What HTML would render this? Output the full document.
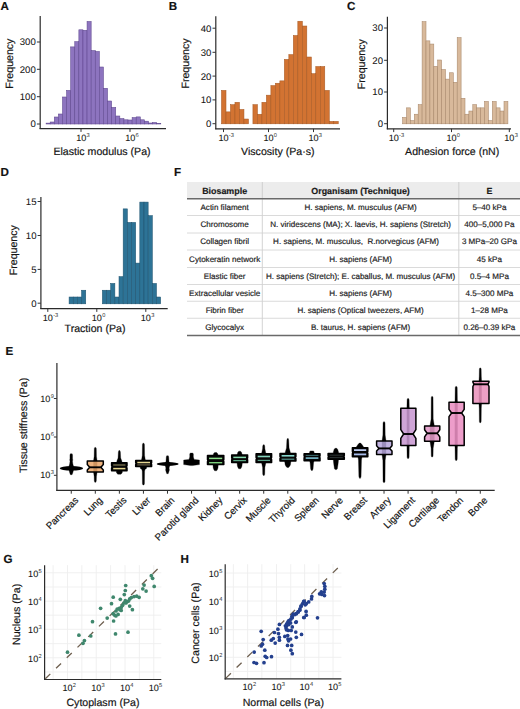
<!DOCTYPE html>
<html><head><meta charset="utf-8"><style>
html,body{margin:0;padding:0;background:#fff;width:520px;height:709px;overflow:hidden}
svg{display:block;font-family:"Liberation Sans", sans-serif;text-rendering:geometricPrecision}
</style></head><body>
<svg width="520" height="709" viewBox="0 0 520 709">
<rect width="520" height="709" fill="#fff"/>
<text x="0.60" y="9.60" font-size="11.6" text-anchor="start" font-weight="bold" fill="#111" stroke="#111" stroke-width="0.18" xml:space="preserve">A</text>
<rect x="46.10" y="123.10" width="4.10" height="0.90" fill="#8d74bf" stroke="#5f478f" stroke-width="0.55"/>
<rect x="50.20" y="122.00" width="4.10" height="2.00" fill="#8d74bf" stroke="#5f478f" stroke-width="0.55"/>
<rect x="54.29" y="117.00" width="4.10" height="7.00" fill="#8d74bf" stroke="#5f478f" stroke-width="0.55"/>
<rect x="58.39" y="114.00" width="4.10" height="10.00" fill="#8d74bf" stroke="#5f478f" stroke-width="0.55"/>
<rect x="62.48" y="97.00" width="4.10" height="27.00" fill="#8d74bf" stroke="#5f478f" stroke-width="0.55"/>
<rect x="66.58" y="90.40" width="4.10" height="33.60" fill="#8d74bf" stroke="#5f478f" stroke-width="0.55"/>
<rect x="70.68" y="46.90" width="4.10" height="77.10" fill="#8d74bf" stroke="#5f478f" stroke-width="0.55"/>
<rect x="74.77" y="41.70" width="4.10" height="82.30" fill="#8d74bf" stroke="#5f478f" stroke-width="0.55"/>
<rect x="78.87" y="29.80" width="4.10" height="94.20" fill="#8d74bf" stroke="#5f478f" stroke-width="0.55"/>
<rect x="82.96" y="30.30" width="4.10" height="93.70" fill="#8d74bf" stroke="#5f478f" stroke-width="0.55"/>
<rect x="87.06" y="21.50" width="4.10" height="102.50" fill="#8d74bf" stroke="#5f478f" stroke-width="0.55"/>
<rect x="91.16" y="50.60" width="4.10" height="73.40" fill="#8d74bf" stroke="#5f478f" stroke-width="0.55"/>
<rect x="95.25" y="51.50" width="4.10" height="72.50" fill="#8d74bf" stroke="#5f478f" stroke-width="0.55"/>
<rect x="99.35" y="67.00" width="4.10" height="57.00" fill="#8d74bf" stroke="#5f478f" stroke-width="0.55"/>
<rect x="103.44" y="88.30" width="4.10" height="35.70" fill="#8d74bf" stroke="#5f478f" stroke-width="0.55"/>
<rect x="107.54" y="101.00" width="4.10" height="23.00" fill="#8d74bf" stroke="#5f478f" stroke-width="0.55"/>
<rect x="111.64" y="107.40" width="4.10" height="16.60" fill="#8d74bf" stroke="#5f478f" stroke-width="0.55"/>
<rect x="115.73" y="116.00" width="4.10" height="8.00" fill="#8d74bf" stroke="#5f478f" stroke-width="0.55"/>
<rect x="119.83" y="118.60" width="4.10" height="5.40" fill="#8d74bf" stroke="#5f478f" stroke-width="0.55"/>
<rect x="123.92" y="119.80" width="4.10" height="4.20" fill="#8d74bf" stroke="#5f478f" stroke-width="0.55"/>
<rect x="128.02" y="120.00" width="4.10" height="4.00" fill="#8d74bf" stroke="#5f478f" stroke-width="0.55"/>
<rect x="132.12" y="117.60" width="4.10" height="6.40" fill="#8d74bf" stroke="#5f478f" stroke-width="0.55"/>
<rect x="136.21" y="116.90" width="4.10" height="7.10" fill="#8d74bf" stroke="#5f478f" stroke-width="0.55"/>
<rect x="140.31" y="119.80" width="4.10" height="4.20" fill="#8d74bf" stroke="#5f478f" stroke-width="0.55"/>
<rect x="144.40" y="121.20" width="4.10" height="2.80" fill="#8d74bf" stroke="#5f478f" stroke-width="0.55"/>
<rect x="148.50" y="123.00" width="4.10" height="1.00" fill="#8d74bf" stroke="#5f478f" stroke-width="0.55"/>
<rect x="152.60" y="122.50" width="4.10" height="1.50" fill="#8d74bf" stroke="#5f478f" stroke-width="0.55"/>
<rect x="156.69" y="123.40" width="4.10" height="0.60" fill="#8d74bf" stroke="#5f478f" stroke-width="0.55"/>
<line x1="40.20" y1="16.00" x2="40.20" y2="129.00" stroke="#2b2b2b" stroke-width="1.2"/>
<line x1="36.90" y1="124.00" x2="40.20" y2="124.00" stroke="#333" stroke-width="1.0"/>
<text x="35.80" y="127.45" font-size="9.6" text-anchor="end" font-weight="normal" fill="#141414" stroke="#141414" stroke-width="0.05" xml:space="preserve">0</text>
<line x1="36.90" y1="96.70" x2="40.20" y2="96.70" stroke="#333" stroke-width="1.0"/>
<text x="35.80" y="100.15" font-size="9.6" text-anchor="end" font-weight="normal" fill="#141414" stroke="#141414" stroke-width="0.05" xml:space="preserve">100</text>
<line x1="36.90" y1="69.30" x2="40.20" y2="69.30" stroke="#333" stroke-width="1.0"/>
<text x="35.80" y="72.75" font-size="9.6" text-anchor="end" font-weight="normal" fill="#141414" stroke="#141414" stroke-width="0.05" xml:space="preserve">200</text>
<line x1="36.90" y1="42.00" x2="40.20" y2="42.00" stroke="#333" stroke-width="1.0"/>
<text x="35.80" y="45.45" font-size="9.6" text-anchor="end" font-weight="normal" fill="#141414" stroke="#141414" stroke-width="0.05" xml:space="preserve">300</text>
<line x1="39.60" y1="128.60" x2="166.00" y2="128.60" stroke="#2b2b2b" stroke-width="1.2"/>
<line x1="81.00" y1="128.60" x2="81.00" y2="131.90" stroke="#333" stroke-width="1.0"/>
<line x1="130.00" y1="128.60" x2="130.00" y2="131.90" stroke="#333" stroke-width="1.0"/>
<text x="76.14" y="141.20" font-size="9.1" fill="#141414" stroke="#141414" stroke-width="0.08">10</text>
<text x="86.56" y="137.20" font-size="5.7" fill="#333">3</text>
<text x="125.14" y="141.20" font-size="9.1" fill="#141414" stroke="#141414" stroke-width="0.08">10</text>
<text x="135.56" y="137.20" font-size="5.7" fill="#333">6</text>
<text x="10.50" y="63.60" font-size="10.6" text-anchor="middle" font-weight="normal" fill="#141414" stroke="#141414" stroke-width="0.18" xml:space="preserve" transform="rotate(-90 10.5 63.6)" dominant-baseline="central">Frequency</text>
<text x="102.00" y="154.70" font-size="10.6" text-anchor="middle" font-weight="normal" fill="#141414" stroke="#141414" stroke-width="0.18" xml:space="preserve">Elastic modulus (Pa)</text>
<text x="168.80" y="9.60" font-size="11.6" text-anchor="start" font-weight="bold" fill="#111" stroke="#111" stroke-width="0.18" xml:space="preserve">B</text>
<rect x="221.50" y="90.41" width="4.49" height="33.39" fill="#d27332" stroke="#a85a24" stroke-width="0.55"/>
<rect x="225.99" y="111.88" width="4.49" height="11.92" fill="#d27332" stroke="#a85a24" stroke-width="0.55"/>
<rect x="230.48" y="104.72" width="4.49" height="19.08" fill="#d27332" stroke="#a85a24" stroke-width="0.55"/>
<rect x="234.97" y="102.34" width="4.49" height="21.46" fill="#d27332" stroke="#a85a24" stroke-width="0.55"/>
<rect x="239.46" y="109.49" width="4.49" height="14.31" fill="#d27332" stroke="#a85a24" stroke-width="0.55"/>
<rect x="243.95" y="119.03" width="4.49" height="4.77" fill="#d27332" stroke="#a85a24" stroke-width="0.55"/>
<rect x="252.93" y="104.72" width="4.49" height="19.08" fill="#d27332" stroke="#a85a24" stroke-width="0.55"/>
<rect x="257.42" y="114.26" width="4.49" height="9.54" fill="#d27332" stroke="#a85a24" stroke-width="0.55"/>
<rect x="261.91" y="102.34" width="4.49" height="21.46" fill="#d27332" stroke="#a85a24" stroke-width="0.55"/>
<rect x="266.40" y="95.18" width="4.49" height="28.62" fill="#d27332" stroke="#a85a24" stroke-width="0.55"/>
<rect x="270.89" y="85.64" width="4.49" height="38.16" fill="#d27332" stroke="#a85a24" stroke-width="0.55"/>
<rect x="275.38" y="83.25" width="4.49" height="40.54" fill="#d27332" stroke="#a85a24" stroke-width="0.55"/>
<rect x="279.87" y="80.87" width="4.49" height="42.93" fill="#d27332" stroke="#a85a24" stroke-width="0.55"/>
<rect x="284.36" y="59.41" width="4.49" height="64.39" fill="#d27332" stroke="#a85a24" stroke-width="0.55"/>
<rect x="288.85" y="54.64" width="4.49" height="69.16" fill="#d27332" stroke="#a85a24" stroke-width="0.55"/>
<rect x="293.34" y="35.56" width="4.49" height="88.24" fill="#d27332" stroke="#a85a24" stroke-width="0.55"/>
<rect x="297.83" y="21.25" width="4.49" height="102.55" fill="#d27332" stroke="#a85a24" stroke-width="0.55"/>
<rect x="302.32" y="26.02" width="4.49" height="97.78" fill="#d27332" stroke="#a85a24" stroke-width="0.55"/>
<rect x="306.81" y="57.02" width="4.49" height="66.78" fill="#d27332" stroke="#a85a24" stroke-width="0.55"/>
<rect x="311.30" y="73.72" width="4.49" height="50.08" fill="#d27332" stroke="#a85a24" stroke-width="0.55"/>
<rect x="315.79" y="66.56" width="4.49" height="57.24" fill="#d27332" stroke="#a85a24" stroke-width="0.55"/>
<rect x="320.28" y="66.56" width="4.49" height="57.24" fill="#d27332" stroke="#a85a24" stroke-width="0.55"/>
<rect x="324.77" y="90.41" width="4.49" height="33.39" fill="#d27332" stroke="#a85a24" stroke-width="0.55"/>
<rect x="329.26" y="121.41" width="4.49" height="2.38" fill="#d27332" stroke="#a85a24" stroke-width="0.55"/>
<rect x="333.75" y="121.41" width="4.49" height="2.38" fill="#d27332" stroke="#a85a24" stroke-width="0.55"/>
<line x1="215.80" y1="16.20" x2="215.80" y2="129.20" stroke="#2b2b2b" stroke-width="1.2"/>
<line x1="212.50" y1="123.70" x2="215.80" y2="123.70" stroke="#333" stroke-width="1.0"/>
<text x="211.40" y="127.15" font-size="9.6" text-anchor="end" font-weight="normal" fill="#141414" stroke="#141414" stroke-width="0.05" xml:space="preserve">0</text>
<line x1="212.50" y1="99.90" x2="215.80" y2="99.90" stroke="#333" stroke-width="1.0"/>
<text x="211.40" y="103.35" font-size="9.6" text-anchor="end" font-weight="normal" fill="#141414" stroke="#141414" stroke-width="0.05" xml:space="preserve">10</text>
<line x1="212.50" y1="76.10" x2="215.80" y2="76.10" stroke="#333" stroke-width="1.0"/>
<text x="211.40" y="79.55" font-size="9.6" text-anchor="end" font-weight="normal" fill="#141414" stroke="#141414" stroke-width="0.05" xml:space="preserve">20</text>
<line x1="212.50" y1="52.30" x2="215.80" y2="52.30" stroke="#333" stroke-width="1.0"/>
<text x="211.40" y="55.75" font-size="9.6" text-anchor="end" font-weight="normal" fill="#141414" stroke="#141414" stroke-width="0.05" xml:space="preserve">30</text>
<line x1="212.50" y1="28.20" x2="215.80" y2="28.20" stroke="#333" stroke-width="1.0"/>
<text x="211.40" y="31.65" font-size="9.6" text-anchor="end" font-weight="normal" fill="#141414" stroke="#141414" stroke-width="0.05" xml:space="preserve">40</text>
<line x1="215.20" y1="128.80" x2="340.00" y2="128.80" stroke="#2b2b2b" stroke-width="1.2"/>
<line x1="223.50" y1="128.80" x2="223.50" y2="132.10" stroke="#333" stroke-width="1.0"/>
<line x1="268.50" y1="128.80" x2="268.50" y2="132.10" stroke="#333" stroke-width="1.0"/>
<line x1="313.50" y1="128.80" x2="313.50" y2="132.10" stroke="#333" stroke-width="1.0"/>
<text x="218.44" y="141.20" font-size="9.1" fill="#141414" stroke="#141414" stroke-width="0.08">10</text>
<text x="228.86" y="137.20" font-size="5.7" fill="#333">-3</text>
<text x="263.44" y="141.20" font-size="9.1" fill="#141414" stroke="#141414" stroke-width="0.08">10</text>
<text x="273.86" y="137.20" font-size="5.7" fill="#333">0</text>
<text x="308.44" y="141.20" font-size="9.1" fill="#141414" stroke="#141414" stroke-width="0.08">10</text>
<text x="318.86" y="137.20" font-size="5.7" fill="#333">3</text>
<text x="186.20" y="63.50" font-size="10.6" text-anchor="middle" font-weight="normal" fill="#141414" stroke="#141414" stroke-width="0.18" xml:space="preserve" transform="rotate(-90 186.2 63.5)" dominant-baseline="central">Frequency</text>
<text x="277.80" y="154.70" font-size="10.6" text-anchor="middle" font-weight="normal" fill="#141414" stroke="#141414" stroke-width="0.18" xml:space="preserve">Viscosity (Pa·s)</text>
<text x="347.00" y="9.60" font-size="11.6" text-anchor="start" font-weight="bold" fill="#111" stroke="#111" stroke-width="0.18" xml:space="preserve">C</text>
<rect x="402.60" y="117.42" width="3.90" height="6.38" fill="#d8b99b" stroke="#a8876a" stroke-width="0.55"/>
<rect x="406.50" y="107.85" width="3.90" height="15.95" fill="#d8b99b" stroke="#a8876a" stroke-width="0.55"/>
<rect x="410.40" y="120.61" width="3.90" height="3.19" fill="#d8b99b" stroke="#a8876a" stroke-width="0.55"/>
<rect x="414.30" y="114.23" width="3.90" height="9.57" fill="#d8b99b" stroke="#a8876a" stroke-width="0.55"/>
<rect x="418.20" y="104.66" width="3.90" height="19.14" fill="#d8b99b" stroke="#a8876a" stroke-width="0.55"/>
<rect x="422.10" y="21.72" width="3.90" height="102.08" fill="#d8b99b" stroke="#a8876a" stroke-width="0.55"/>
<rect x="426.00" y="40.86" width="3.90" height="82.94" fill="#d8b99b" stroke="#a8876a" stroke-width="0.55"/>
<rect x="429.90" y="44.05" width="3.90" height="79.75" fill="#d8b99b" stroke="#a8876a" stroke-width="0.55"/>
<rect x="433.80" y="66.38" width="3.90" height="57.42" fill="#d8b99b" stroke="#a8876a" stroke-width="0.55"/>
<rect x="437.70" y="60.00" width="3.90" height="63.80" fill="#d8b99b" stroke="#a8876a" stroke-width="0.55"/>
<rect x="441.60" y="69.57" width="3.90" height="54.23" fill="#d8b99b" stroke="#a8876a" stroke-width="0.55"/>
<rect x="445.50" y="79.14" width="3.90" height="44.66" fill="#d8b99b" stroke="#a8876a" stroke-width="0.55"/>
<rect x="449.40" y="72.76" width="3.90" height="51.04" fill="#d8b99b" stroke="#a8876a" stroke-width="0.55"/>
<rect x="453.30" y="82.33" width="3.90" height="41.47" fill="#d8b99b" stroke="#a8876a" stroke-width="0.55"/>
<rect x="457.20" y="37.67" width="3.90" height="86.13" fill="#d8b99b" stroke="#a8876a" stroke-width="0.55"/>
<rect x="461.10" y="98.28" width="3.90" height="25.52" fill="#d8b99b" stroke="#a8876a" stroke-width="0.55"/>
<rect x="465.00" y="114.23" width="3.90" height="9.57" fill="#d8b99b" stroke="#a8876a" stroke-width="0.55"/>
<rect x="468.90" y="111.04" width="3.90" height="12.76" fill="#d8b99b" stroke="#a8876a" stroke-width="0.55"/>
<rect x="472.80" y="104.66" width="3.90" height="19.14" fill="#d8b99b" stroke="#a8876a" stroke-width="0.55"/>
<rect x="476.70" y="107.85" width="3.90" height="15.95" fill="#d8b99b" stroke="#a8876a" stroke-width="0.55"/>
<rect x="480.60" y="107.85" width="3.90" height="15.95" fill="#d8b99b" stroke="#a8876a" stroke-width="0.55"/>
<rect x="484.50" y="101.47" width="3.90" height="22.33" fill="#d8b99b" stroke="#a8876a" stroke-width="0.55"/>
<rect x="488.40" y="120.61" width="3.90" height="3.19" fill="#d8b99b" stroke="#a8876a" stroke-width="0.55"/>
<rect x="492.30" y="101.47" width="3.90" height="22.33" fill="#d8b99b" stroke="#a8876a" stroke-width="0.55"/>
<rect x="496.20" y="107.85" width="3.90" height="15.95" fill="#d8b99b" stroke="#a8876a" stroke-width="0.55"/>
<rect x="500.10" y="111.04" width="3.90" height="12.76" fill="#d8b99b" stroke="#a8876a" stroke-width="0.55"/>
<rect x="504.00" y="101.47" width="3.90" height="22.33" fill="#d8b99b" stroke="#a8876a" stroke-width="0.55"/>
<line x1="387.40" y1="16.70" x2="387.40" y2="129.20" stroke="#2b2b2b" stroke-width="1.2"/>
<line x1="384.10" y1="123.70" x2="387.40" y2="123.70" stroke="#333" stroke-width="1.0"/>
<text x="383.00" y="127.15" font-size="9.6" text-anchor="end" font-weight="normal" fill="#141414" stroke="#141414" stroke-width="0.05" xml:space="preserve">0</text>
<line x1="384.10" y1="92.00" x2="387.40" y2="92.00" stroke="#333" stroke-width="1.0"/>
<text x="383.00" y="95.45" font-size="9.6" text-anchor="end" font-weight="normal" fill="#141414" stroke="#141414" stroke-width="0.05" xml:space="preserve">10</text>
<line x1="384.10" y1="60.30" x2="387.40" y2="60.30" stroke="#333" stroke-width="1.0"/>
<text x="383.00" y="63.75" font-size="9.6" text-anchor="end" font-weight="normal" fill="#141414" stroke="#141414" stroke-width="0.05" xml:space="preserve">20</text>
<line x1="384.10" y1="28.00" x2="387.40" y2="28.00" stroke="#333" stroke-width="1.0"/>
<text x="383.00" y="31.45" font-size="9.6" text-anchor="end" font-weight="normal" fill="#141414" stroke="#141414" stroke-width="0.05" xml:space="preserve">30</text>
<line x1="386.80" y1="128.80" x2="511.00" y2="128.80" stroke="#2b2b2b" stroke-width="1.2"/>
<line x1="393.70" y1="128.80" x2="393.70" y2="132.10" stroke="#333" stroke-width="1.0"/>
<line x1="451.50" y1="128.80" x2="451.50" y2="132.10" stroke="#333" stroke-width="1.0"/>
<line x1="509.30" y1="128.80" x2="509.30" y2="132.10" stroke="#333" stroke-width="1.0"/>
<text x="388.64" y="141.20" font-size="9.1" fill="#141414" stroke="#141414" stroke-width="0.08">10</text>
<text x="399.06" y="137.20" font-size="5.7" fill="#333">-3</text>
<text x="446.44" y="141.20" font-size="9.1" fill="#141414" stroke="#141414" stroke-width="0.08">10</text>
<text x="456.86" y="137.20" font-size="5.7" fill="#333">0</text>
<text x="504.24" y="141.20" font-size="9.1" fill="#141414" stroke="#141414" stroke-width="0.08">10</text>
<text x="514.66" y="137.20" font-size="5.7" fill="#333">3</text>
<text x="362.50" y="64.20" font-size="10.6" text-anchor="middle" font-weight="normal" fill="#141414" stroke="#141414" stroke-width="0.18" xml:space="preserve" transform="rotate(-90 362.5 64.2)" dominant-baseline="central">Frequency</text>
<text x="452.20" y="154.80" font-size="10.6" text-anchor="middle" font-weight="normal" fill="#141414" stroke="#141414" stroke-width="0.18" xml:space="preserve">Adhesion force (nN)</text>
<text x="0.60" y="175.80" font-size="11.6" text-anchor="start" font-weight="bold" fill="#111" stroke="#111" stroke-width="0.18" xml:space="preserve">D</text>
<rect x="69.10" y="297.02" width="4.16" height="6.78" fill="#2d7396" stroke="#1f5470" stroke-width="0.55"/>
<rect x="73.26" y="297.02" width="4.16" height="6.78" fill="#2d7396" stroke="#1f5470" stroke-width="0.55"/>
<rect x="77.42" y="297.02" width="4.16" height="6.78" fill="#2d7396" stroke="#1f5470" stroke-width="0.55"/>
<rect x="81.58" y="290.24" width="4.16" height="13.56" fill="#2d7396" stroke="#1f5470" stroke-width="0.55"/>
<rect x="102.38" y="290.24" width="4.16" height="13.56" fill="#2d7396" stroke="#1f5470" stroke-width="0.55"/>
<rect x="106.54" y="290.24" width="4.16" height="13.56" fill="#2d7396" stroke="#1f5470" stroke-width="0.55"/>
<rect x="110.70" y="283.46" width="4.16" height="20.34" fill="#2d7396" stroke="#1f5470" stroke-width="0.55"/>
<rect x="114.86" y="297.02" width="4.16" height="6.78" fill="#2d7396" stroke="#1f5470" stroke-width="0.55"/>
<rect x="119.02" y="276.68" width="4.16" height="27.12" fill="#2d7396" stroke="#1f5470" stroke-width="0.55"/>
<rect x="123.18" y="208.88" width="4.16" height="94.92" fill="#2d7396" stroke="#1f5470" stroke-width="0.55"/>
<rect x="127.34" y="222.44" width="4.16" height="81.36" fill="#2d7396" stroke="#1f5470" stroke-width="0.55"/>
<rect x="131.50" y="222.44" width="4.16" height="81.36" fill="#2d7396" stroke="#1f5470" stroke-width="0.55"/>
<rect x="135.66" y="263.12" width="4.16" height="40.68" fill="#2d7396" stroke="#1f5470" stroke-width="0.55"/>
<rect x="139.82" y="202.10" width="4.16" height="101.70" fill="#2d7396" stroke="#1f5470" stroke-width="0.55"/>
<rect x="143.98" y="202.10" width="4.16" height="101.70" fill="#2d7396" stroke="#1f5470" stroke-width="0.55"/>
<rect x="148.14" y="215.66" width="4.16" height="88.14" fill="#2d7396" stroke="#1f5470" stroke-width="0.55"/>
<rect x="152.30" y="283.46" width="4.16" height="20.34" fill="#2d7396" stroke="#1f5470" stroke-width="0.55"/>
<rect x="156.46" y="297.02" width="4.16" height="6.78" fill="#2d7396" stroke="#1f5470" stroke-width="0.55"/>
<line x1="40.90" y1="197.00" x2="40.90" y2="309.00" stroke="#2b2b2b" stroke-width="1.2"/>
<line x1="37.60" y1="303.20" x2="40.90" y2="303.20" stroke="#333" stroke-width="1.0"/>
<text x="36.50" y="306.65" font-size="9.6" text-anchor="end" font-weight="normal" fill="#141414" stroke="#141414" stroke-width="0.05" xml:space="preserve">0</text>
<line x1="37.60" y1="269.40" x2="40.90" y2="269.40" stroke="#333" stroke-width="1.0"/>
<text x="36.50" y="272.85" font-size="9.6" text-anchor="end" font-weight="normal" fill="#141414" stroke="#141414" stroke-width="0.05" xml:space="preserve">5</text>
<line x1="37.60" y1="235.50" x2="40.90" y2="235.50" stroke="#333" stroke-width="1.0"/>
<text x="36.50" y="238.95" font-size="9.6" text-anchor="end" font-weight="normal" fill="#141414" stroke="#141414" stroke-width="0.05" xml:space="preserve">10</text>
<line x1="37.60" y1="201.50" x2="40.90" y2="201.50" stroke="#333" stroke-width="1.0"/>
<text x="36.50" y="204.95" font-size="9.6" text-anchor="end" font-weight="normal" fill="#141414" stroke="#141414" stroke-width="0.05" xml:space="preserve">15</text>
<line x1="40.30" y1="308.60" x2="167.70" y2="308.60" stroke="#2b2b2b" stroke-width="1.2"/>
<line x1="47.80" y1="308.60" x2="47.80" y2="311.90" stroke="#333" stroke-width="1.0"/>
<line x1="96.80" y1="308.60" x2="96.80" y2="311.90" stroke="#333" stroke-width="1.0"/>
<line x1="145.80" y1="308.60" x2="145.80" y2="311.90" stroke="#333" stroke-width="1.0"/>
<text x="42.74" y="321.00" font-size="9.1" fill="#141414" stroke="#141414" stroke-width="0.08">10</text>
<text x="53.16" y="317.00" font-size="5.7" fill="#333">-3</text>
<text x="91.74" y="321.00" font-size="9.1" fill="#141414" stroke="#141414" stroke-width="0.08">10</text>
<text x="102.16" y="317.00" font-size="5.7" fill="#333">0</text>
<text x="140.74" y="321.00" font-size="9.1" fill="#141414" stroke="#141414" stroke-width="0.08">10</text>
<text x="151.16" y="317.00" font-size="5.7" fill="#333">3</text>
<text x="14.30" y="250.20" font-size="10.6" text-anchor="middle" font-weight="normal" fill="#141414" stroke="#141414" stroke-width="0.18" xml:space="preserve" transform="rotate(-90 14.3 250.2)" dominant-baseline="central">Frequency</text>
<text x="95.00" y="331.90" font-size="10.6" text-anchor="middle" font-weight="normal" fill="#141414" stroke="#141414" stroke-width="0.18" xml:space="preserve">Traction (Pa)</text>
<text x="174.00" y="175.60" font-size="11.6" text-anchor="start" font-weight="bold" fill="#111" stroke="#111" stroke-width="0.18" xml:space="preserve">F</text>
<rect x="187.00" y="182.00" width="333.00" height="16.80" fill="#ececec"/>
<line x1="262.30" y1="182.00" x2="262.30" y2="335.50" stroke="#c8c8c8" stroke-width="0.8"/>
<line x1="458.80" y1="182.00" x2="458.80" y2="335.50" stroke="#c8c8c8" stroke-width="0.8"/>
<line x1="187.00" y1="215.50" x2="520.00" y2="215.50" stroke="#d0d0d0" stroke-width="0.8"/>
<line x1="187.00" y1="233.00" x2="520.00" y2="233.00" stroke="#d0d0d0" stroke-width="0.8"/>
<line x1="187.00" y1="250.00" x2="520.00" y2="250.00" stroke="#d0d0d0" stroke-width="0.8"/>
<line x1="187.00" y1="267.50" x2="520.00" y2="267.50" stroke="#d0d0d0" stroke-width="0.8"/>
<line x1="187.00" y1="284.50" x2="520.00" y2="284.50" stroke="#d0d0d0" stroke-width="0.8"/>
<line x1="187.00" y1="301.25" x2="520.00" y2="301.25" stroke="#d0d0d0" stroke-width="0.8"/>
<line x1="187.00" y1="318.25" x2="520.00" y2="318.25" stroke="#d0d0d0" stroke-width="0.8"/>
<line x1="187.00" y1="198.80" x2="520.00" y2="198.80" stroke="#6a6a6a" stroke-width="1.4"/>
<line x1="187.00" y1="335.50" x2="520.00" y2="335.50" stroke="#6a6a6a" stroke-width="1.4"/>
<text x="224.65" y="194.30" font-size="8.9" text-anchor="middle" font-weight="bold" fill="#1a1a1a" stroke="#1a1a1a" stroke-width="0.18" xml:space="preserve">Biosample</text>
<text x="360.55" y="194.30" font-size="8.9" text-anchor="middle" font-weight="bold" fill="#1a1a1a" stroke="#1a1a1a" stroke-width="0.18" xml:space="preserve">Organisam (Technique)</text>
<text x="489.40" y="194.30" font-size="8.9" text-anchor="middle" font-weight="bold" fill="#1a1a1a" stroke="#1a1a1a" stroke-width="0.18" xml:space="preserve">E</text>
<text x="224.65" y="210.05" font-size="8.05" text-anchor="middle" font-weight="normal" fill="#222" stroke="#222" stroke-width="0.18" xml:space="preserve">Actin filament</text>
<text x="360.55" y="210.05" font-size="8.05" text-anchor="middle" font-weight="normal" fill="#222" stroke="#222" stroke-width="0.18" xml:space="preserve">H. sapiens, M. musculus (AFM)</text>
<text x="489.40" y="210.05" font-size="8.05" text-anchor="middle" font-weight="normal" fill="#222" stroke="#222" stroke-width="0.18" xml:space="preserve">5–40 kPa</text>
<text x="224.65" y="227.15" font-size="8.05" text-anchor="middle" font-weight="normal" fill="#222" stroke="#222" stroke-width="0.18" xml:space="preserve">Chromosome</text>
<text x="360.55" y="227.15" font-size="8.05" text-anchor="middle" font-weight="normal" fill="#222" stroke="#222" stroke-width="0.18" xml:space="preserve">N. viridescens (MA); X. laevis, H. sapiens (Stretch)</text>
<text x="489.40" y="227.15" font-size="8.05" text-anchor="middle" font-weight="normal" fill="#222" stroke="#222" stroke-width="0.18" xml:space="preserve">400–5,000 Pa</text>
<text x="224.65" y="244.40" font-size="8.05" text-anchor="middle" font-weight="normal" fill="#222" stroke="#222" stroke-width="0.18" xml:space="preserve">Collagen fibril</text>
<text x="356.05" y="244.40" font-size="8.05" text-anchor="middle" font-weight="normal" fill="#222" stroke="#222" stroke-width="0.18" xml:space="preserve">H. sapiens, M. musculus,  R.norvegicus (AFM)</text>
<text x="489.40" y="244.40" font-size="8.05" text-anchor="middle" font-weight="normal" fill="#222" stroke="#222" stroke-width="0.18" xml:space="preserve">3 MPa–20 GPa</text>
<text x="224.65" y="261.65" font-size="8.05" text-anchor="middle" font-weight="normal" fill="#222" stroke="#222" stroke-width="0.18" xml:space="preserve">Cytokeratin network</text>
<text x="360.55" y="261.65" font-size="8.05" text-anchor="middle" font-weight="normal" fill="#222" stroke="#222" stroke-width="0.18" xml:space="preserve">H. sapiens (AFM)</text>
<text x="489.40" y="261.65" font-size="8.05" text-anchor="middle" font-weight="normal" fill="#222" stroke="#222" stroke-width="0.18" xml:space="preserve">45 kPa</text>
<text x="224.65" y="278.90" font-size="8.05" text-anchor="middle" font-weight="normal" fill="#222" stroke="#222" stroke-width="0.18" xml:space="preserve">Elastic fiber</text>
<text x="360.55" y="278.90" font-size="8.05" text-anchor="middle" font-weight="normal" fill="#222" stroke="#222" stroke-width="0.18" xml:space="preserve">H. sapiens (Stretch); E. caballus, M. musculus (AFM)</text>
<text x="489.40" y="278.90" font-size="8.05" text-anchor="middle" font-weight="normal" fill="#222" stroke="#222" stroke-width="0.18" xml:space="preserve">0.5–4 MPa</text>
<text x="224.65" y="295.77" font-size="8.05" text-anchor="middle" font-weight="normal" fill="#222" stroke="#222" stroke-width="0.18" xml:space="preserve">Extracellular vesicle</text>
<text x="360.55" y="295.77" font-size="8.05" text-anchor="middle" font-weight="normal" fill="#222" stroke="#222" stroke-width="0.18" xml:space="preserve">H. sapiens (AFM)</text>
<text x="489.40" y="295.77" font-size="8.05" text-anchor="middle" font-weight="normal" fill="#222" stroke="#222" stroke-width="0.18" xml:space="preserve">4.5–300 MPa</text>
<text x="224.65" y="312.65" font-size="8.05" text-anchor="middle" font-weight="normal" fill="#222" stroke="#222" stroke-width="0.18" xml:space="preserve">Fibrin fiber</text>
<text x="360.55" y="312.65" font-size="8.05" text-anchor="middle" font-weight="normal" fill="#222" stroke="#222" stroke-width="0.18" xml:space="preserve">H. sapiens (Optical tweezers, AFM)</text>
<text x="489.40" y="312.65" font-size="8.05" text-anchor="middle" font-weight="normal" fill="#222" stroke="#222" stroke-width="0.18" xml:space="preserve">1–28 MPa</text>
<text x="224.65" y="329.77" font-size="8.05" text-anchor="middle" font-weight="normal" fill="#222" stroke="#222" stroke-width="0.18" xml:space="preserve">Glycocalyx</text>
<text x="360.55" y="329.77" font-size="8.05" text-anchor="middle" font-weight="normal" fill="#222" stroke="#222" stroke-width="0.18" xml:space="preserve">B. taurus, H. sapiens (AFM)</text>
<text x="489.40" y="329.77" font-size="8.05" text-anchor="middle" font-weight="normal" fill="#222" stroke="#222" stroke-width="0.18" xml:space="preserve">0.26–0.39 kPa</text>
<text x="5.60" y="355.40" font-size="11.6" text-anchor="start" font-weight="bold" fill="#111" stroke="#111" stroke-width="0.18" xml:space="preserve">E</text>
<line x1="56.90" y1="363.00" x2="56.90" y2="490.90" stroke="#2b2b2b" stroke-width="1.2"/>
<line x1="56.30" y1="490.40" x2="494.70" y2="490.40" stroke="#2b2b2b" stroke-width="1.2"/>
<line x1="53.90" y1="398.50" x2="56.90" y2="398.50" stroke="#333" stroke-width="1.0"/>
<text x="40.21" y="401.50" font-size="9.1" fill="#141414" stroke="#141414" stroke-width="0.08">10</text>
<text x="50.63" y="397.50" font-size="5.7" fill="#333">9</text>
<line x1="53.90" y1="437.00" x2="56.90" y2="437.00" stroke="#333" stroke-width="1.0"/>
<text x="40.21" y="440.00" font-size="9.1" fill="#141414" stroke="#141414" stroke-width="0.08">10</text>
<text x="50.63" y="436.00" font-size="5.7" fill="#333">6</text>
<line x1="53.90" y1="475.30" x2="56.90" y2="475.30" stroke="#333" stroke-width="1.0"/>
<text x="40.21" y="478.30" font-size="9.1" fill="#141414" stroke="#141414" stroke-width="0.08">10</text>
<text x="50.63" y="474.30" font-size="5.7" fill="#333">3</text>
<text x="24.20" y="425.40" font-size="10.6" text-anchor="middle" font-weight="normal" fill="#141414" stroke="#141414" stroke-width="0.18" xml:space="preserve" transform="rotate(-90 24.2 425.4)" dominant-baseline="central">Tissue stiffness (Pa)</text>
<line x1="71.25" y1="490.40" x2="71.25" y2="493.70" stroke="#333" stroke-width="1.0"/>
<text x="78.95" y="500.90" font-size="9.7" text-anchor="end" font-weight="normal" fill="#141414" stroke="#141414" stroke-width="0.18" xml:space="preserve" transform="rotate(-45 78.95 500.9)">Pancreas</text>
<line x1="95.31" y1="490.40" x2="95.31" y2="493.70" stroke="#333" stroke-width="1.0"/>
<text x="103.01" y="500.90" font-size="9.7" text-anchor="end" font-weight="normal" fill="#141414" stroke="#141414" stroke-width="0.18" xml:space="preserve" transform="rotate(-45 103.01 500.9)">Lung</text>
<line x1="119.37" y1="490.40" x2="119.37" y2="493.70" stroke="#333" stroke-width="1.0"/>
<text x="127.07" y="500.90" font-size="9.7" text-anchor="end" font-weight="normal" fill="#141414" stroke="#141414" stroke-width="0.18" xml:space="preserve" transform="rotate(-45 127.07000000000001 500.9)">Testis</text>
<line x1="143.43" y1="490.40" x2="143.43" y2="493.70" stroke="#333" stroke-width="1.0"/>
<text x="151.13" y="500.90" font-size="9.7" text-anchor="end" font-weight="normal" fill="#141414" stroke="#141414" stroke-width="0.18" xml:space="preserve" transform="rotate(-45 151.13 500.9)">Liver</text>
<line x1="167.49" y1="490.40" x2="167.49" y2="493.70" stroke="#333" stroke-width="1.0"/>
<text x="175.19" y="500.90" font-size="9.7" text-anchor="end" font-weight="normal" fill="#141414" stroke="#141414" stroke-width="0.18" xml:space="preserve" transform="rotate(-45 175.19 500.9)">Brain</text>
<line x1="191.55" y1="490.40" x2="191.55" y2="493.70" stroke="#333" stroke-width="1.0"/>
<text x="199.25" y="500.90" font-size="9.7" text-anchor="end" font-weight="normal" fill="#141414" stroke="#141414" stroke-width="0.18" xml:space="preserve" transform="rotate(-45 199.25 500.9)">Parotid gland</text>
<line x1="215.61" y1="490.40" x2="215.61" y2="493.70" stroke="#333" stroke-width="1.0"/>
<text x="223.31" y="500.90" font-size="9.7" text-anchor="end" font-weight="normal" fill="#141414" stroke="#141414" stroke-width="0.18" xml:space="preserve" transform="rotate(-45 223.30999999999997 500.9)">Kidney</text>
<line x1="239.67" y1="490.40" x2="239.67" y2="493.70" stroke="#333" stroke-width="1.0"/>
<text x="247.37" y="500.90" font-size="9.7" text-anchor="end" font-weight="normal" fill="#141414" stroke="#141414" stroke-width="0.18" xml:space="preserve" transform="rotate(-45 247.36999999999998 500.9)">Cervix</text>
<line x1="263.73" y1="490.40" x2="263.73" y2="493.70" stroke="#333" stroke-width="1.0"/>
<text x="271.43" y="500.90" font-size="9.7" text-anchor="end" font-weight="normal" fill="#141414" stroke="#141414" stroke-width="0.18" xml:space="preserve" transform="rotate(-45 271.43 500.9)">Muscle</text>
<line x1="287.79" y1="490.40" x2="287.79" y2="493.70" stroke="#333" stroke-width="1.0"/>
<text x="295.49" y="500.90" font-size="9.7" text-anchor="end" font-weight="normal" fill="#141414" stroke="#141414" stroke-width="0.18" xml:space="preserve" transform="rotate(-45 295.48999999999995 500.9)">Thyroid</text>
<line x1="311.85" y1="490.40" x2="311.85" y2="493.70" stroke="#333" stroke-width="1.0"/>
<text x="319.55" y="500.90" font-size="9.7" text-anchor="end" font-weight="normal" fill="#141414" stroke="#141414" stroke-width="0.18" xml:space="preserve" transform="rotate(-45 319.55 500.9)">Spleen</text>
<line x1="335.91" y1="490.40" x2="335.91" y2="493.70" stroke="#333" stroke-width="1.0"/>
<text x="343.61" y="500.90" font-size="9.7" text-anchor="end" font-weight="normal" fill="#141414" stroke="#141414" stroke-width="0.18" xml:space="preserve" transform="rotate(-45 343.60999999999996 500.9)">Nerve</text>
<line x1="359.97" y1="490.40" x2="359.97" y2="493.70" stroke="#333" stroke-width="1.0"/>
<text x="367.67" y="500.90" font-size="9.7" text-anchor="end" font-weight="normal" fill="#141414" stroke="#141414" stroke-width="0.18" xml:space="preserve" transform="rotate(-45 367.66999999999996 500.9)">Breast</text>
<line x1="384.03" y1="490.40" x2="384.03" y2="493.70" stroke="#333" stroke-width="1.0"/>
<text x="391.73" y="500.90" font-size="9.7" text-anchor="end" font-weight="normal" fill="#141414" stroke="#141414" stroke-width="0.18" xml:space="preserve" transform="rotate(-45 391.72999999999996 500.9)">Artery</text>
<line x1="408.09" y1="490.40" x2="408.09" y2="493.70" stroke="#333" stroke-width="1.0"/>
<text x="415.79" y="500.90" font-size="9.7" text-anchor="end" font-weight="normal" fill="#141414" stroke="#141414" stroke-width="0.18" xml:space="preserve" transform="rotate(-45 415.78999999999996 500.9)">Ligament</text>
<line x1="432.15" y1="490.40" x2="432.15" y2="493.70" stroke="#333" stroke-width="1.0"/>
<text x="439.85" y="500.90" font-size="9.7" text-anchor="end" font-weight="normal" fill="#141414" stroke="#141414" stroke-width="0.18" xml:space="preserve" transform="rotate(-45 439.84999999999997 500.9)">Cartilage</text>
<line x1="456.21" y1="490.40" x2="456.21" y2="493.70" stroke="#333" stroke-width="1.0"/>
<text x="463.91" y="500.90" font-size="9.7" text-anchor="end" font-weight="normal" fill="#141414" stroke="#141414" stroke-width="0.18" xml:space="preserve" transform="rotate(-45 463.90999999999997 500.9)">Tendon</text>
<line x1="480.27" y1="490.40" x2="480.27" y2="493.70" stroke="#333" stroke-width="1.0"/>
<text x="487.97" y="500.90" font-size="9.7" text-anchor="end" font-weight="normal" fill="#141414" stroke="#141414" stroke-width="0.18" xml:space="preserve" transform="rotate(-45 487.96999999999997 500.9)">Bone</text>
<polygon points="70.35,453.80 69.95,455.00 69.95,459.00 69.65,460.00 70.05,461.00 69.65,464.00 69.05,466.00 69.05,470.50 69.95,473.50 70.45,474.70 72.05,474.70 72.55,473.50 73.45,470.50 73.45,466.00 72.85,464.00 72.45,461.00 72.85,460.00 72.55,459.00 72.55,455.00 72.15,453.80" fill="#000" stroke="#000" stroke-width="0.3" stroke-linejoin="round"/>
<ellipse cx="71.45" cy="468.3" rx="11.7" ry="2.3" fill="#000"/>
<polygon points="94.81,447.40 94.31,448.60 94.16,456.40 93.51,460.90 93.51,471.90 94.16,476.40 94.31,481.10 94.81,482.30 95.81,482.30 96.31,481.10 96.46,476.40 97.11,471.90 97.11,460.90 96.46,456.40 96.31,448.60 95.81,447.40" fill="#000" stroke="#000" stroke-width="0.3" stroke-linejoin="round"/>
<polygon points="87.30,460.90 103.30,460.90 103.30,464.60 100.90,467.30 103.30,470.00 103.30,471.90 87.30,471.90 87.30,470.00 89.70,467.30 87.30,464.60" fill="#eba96c" fill-opacity="0.88" stroke="#000" stroke-width="1.5" stroke-linejoin="round"/>
<line x1="89.70" y1="467.30" x2="100.90" y2="467.30" stroke="#000" stroke-width="1.9"/>
<polygon points="118.87,450.60 118.37,452.00 118.07,458.00 116.87,461.00 116.37,471.00 116.57,473.00 117.87,474.20 120.87,474.20 122.17,473.00 122.37,471.00 121.87,461.00 120.67,458.00 120.37,452.00 119.87,450.60" fill="#000" stroke="#000" stroke-width="0.3" stroke-linejoin="round"/>
<polygon points="111.60,462.80 127.00,462.80 127.00,465.60 126.40,466.80 127.00,468.00 127.00,470.80 111.60,470.80 111.60,468.00 112.20,466.80 111.60,465.60" fill="#060606" stroke="#000" stroke-width="1.5" stroke-linejoin="round"/>
<line x1="113.20" y1="465.00" x2="125.40" y2="465.00" stroke="#7c7450" stroke-width="1.3"/>
<line x1="113.20" y1="468.60" x2="125.40" y2="468.60" stroke="#e6d68e" stroke-width="1.5"/>
<polygon points="142.93,443.20 142.43,444.40 142.28,455.60 141.43,460.60 141.43,466.50 142.28,471.50 142.43,483.80 142.93,485.00 143.93,485.00 144.43,483.80 144.58,471.50 145.43,466.50 145.43,460.60 144.58,455.60 144.43,444.40 143.93,443.20" fill="#000" stroke="#000" stroke-width="0.3" stroke-linejoin="round"/>
<polygon points="139.93,466.00 140.43,468.30 141.93,469.50 144.93,469.50 146.43,468.30 146.93,466.00" fill="#000" stroke="#000" stroke-width="0.3" stroke-linejoin="round"/>
<polygon points="135.70,460.60 151.60,460.60 151.60,462.60 151.10,463.60 151.60,464.60 151.60,466.50 135.70,466.50 135.70,464.60 136.20,463.60 135.70,462.60" fill="#060606" stroke="#000" stroke-width="1.5" stroke-linejoin="round"/>
<line x1="137.30" y1="462.50" x2="150.00" y2="462.50" stroke="#e6d690" stroke-width="1.5"/>
<line x1="137.30" y1="464.90" x2="150.00" y2="464.90" stroke="#706448" stroke-width="1.1"/>
<polygon points="166.69,455.80 166.29,457.00 165.99,461.50 165.29,462.50 165.29,466.00 165.89,468.00 165.59,470.00 166.19,472.00 166.79,473.70 168.19,473.70 168.79,472.00 169.39,470.00 169.09,468.00 169.69,466.00 169.69,462.50 168.99,461.50 168.69,457.00 168.29,455.80" fill="#000" stroke="#000" stroke-width="0.3" stroke-linejoin="round"/>
<ellipse cx="167.69" cy="464.0" rx="11.0" ry="1.9" fill="#000"/>
<polygon points="190.55,453.10 189.75,453.70 189.75,457.00 188.95,459.40 183.65,460.10 183.65,464.60 188.55,465.20 190.55,465.60 192.55,465.60 194.55,465.20 199.45,464.60 199.45,460.10 194.15,459.40 193.35,457.00 193.35,453.70 192.55,453.10" fill="#000" stroke="#000" stroke-width="0.3" stroke-linejoin="round"/>
<polygon points="214.61,452.50 213.71,453.50 213.01,455.40 213.01,465.00 213.21,468.00 214.01,470.00 214.71,470.80 216.51,470.80 217.21,470.00 218.01,468.00 218.21,465.00 218.21,455.40 217.51,453.50 216.61,452.50" fill="#000" stroke="#000" stroke-width="0.3" stroke-linejoin="round"/>
<polygon points="207.50,455.60 223.80,455.60 223.80,459.60 223.30,460.60 223.80,461.60 223.80,464.60 207.50,464.60 207.50,461.60 208.00,460.60 207.50,459.60" fill="#060606" stroke="#000" stroke-width="1.5" stroke-linejoin="round"/>
<line x1="209.10" y1="458.40" x2="222.20" y2="458.40" stroke="#8ee08c" stroke-width="1.5"/>
<line x1="209.10" y1="462.70" x2="222.20" y2="462.70" stroke="#7cd07c" stroke-width="1.4"/>
<polygon points="238.77,451.20 237.77,452.50 237.07,455.00 237.07,463.00 237.37,466.00 238.17,468.00 238.77,468.80 240.57,468.80 241.17,468.00 241.97,466.00 242.27,463.00 242.27,455.00 241.57,452.50 240.57,451.20" fill="#000" stroke="#000" stroke-width="0.3" stroke-linejoin="round"/>
<polygon points="231.70,455.00 247.60,455.00 247.60,457.90 247.10,458.90 247.60,459.90 247.60,462.50 231.70,462.50 231.70,459.90 232.20,458.90 231.70,457.90" fill="#060606" stroke="#000" stroke-width="1.5" stroke-linejoin="round"/>
<line x1="233.30" y1="457.40" x2="246.00" y2="457.40" stroke="#88dcae" stroke-width="1.5"/>
<line x1="233.30" y1="460.60" x2="246.00" y2="460.60" stroke="#5aa684" stroke-width="1.2"/>
<polygon points="263.23,444.80 262.73,446.00 262.58,448.75 261.53,453.75 261.53,462.40 262.58,467.40 262.73,474.20 263.23,475.40 264.23,475.40 264.73,474.20 264.88,467.40 265.93,462.40 265.93,453.75 264.88,448.75 264.73,446.00 264.23,444.80" fill="#000" stroke="#000" stroke-width="0.3" stroke-linejoin="round"/>
<polygon points="256.10,453.75 271.60,453.75 271.60,457.50 271.10,458.50 271.60,459.50 271.60,462.40 256.10,462.40 256.10,459.50 256.60,458.50 256.10,457.50" fill="#060606" stroke="#000" stroke-width="1.5" stroke-linejoin="round"/>
<line x1="257.70" y1="456.50" x2="270.00" y2="456.50" stroke="#86d4bc" stroke-width="1.6"/>
<line x1="257.70" y1="460.40" x2="270.00" y2="460.40" stroke="#5aa088" stroke-width="1.2"/>
<polygon points="287.29,438.60 286.89,440.00 286.49,448.00 285.29,452.00 284.59,461.00 285.19,465.00 286.29,466.80 286.99,467.50 288.59,467.50 289.29,466.80 290.39,465.00 290.99,461.00 290.29,452.00 289.09,448.00 288.69,440.00 288.29,438.60" fill="#000" stroke="#000" stroke-width="0.3" stroke-linejoin="round"/>
<polygon points="280.00,453.50 295.90,453.50 295.90,456.50 295.40,457.50 295.90,458.50 295.90,461.00 280.00,461.00 280.00,458.50 280.50,457.50 280.00,456.50" fill="#060606" stroke="#000" stroke-width="1.5" stroke-linejoin="round"/>
<line x1="281.60" y1="455.80" x2="294.30" y2="455.80" stroke="#86d6cc" stroke-width="1.6"/>
<line x1="281.60" y1="459.20" x2="294.30" y2="459.20" stroke="#5e9e98" stroke-width="1.1"/>
<polygon points="310.55,450.90 309.65,451.60 309.45,453.80 309.65,460.70 310.15,463.00 310.65,469.00 311.25,470.40 312.45,470.40 313.05,469.00 313.55,463.00 314.05,460.70 314.25,453.80 314.05,451.60 313.15,450.90" fill="#000" stroke="#000" stroke-width="0.3" stroke-linejoin="round"/>
<polygon points="304.10,453.75 320.00,453.75 320.00,455.80 319.50,456.80 320.00,457.80 320.00,460.70 304.10,460.70 304.10,457.80 304.60,456.80 304.10,455.80" fill="#060606" stroke="#000" stroke-width="1.5" stroke-linejoin="round"/>
<line x1="305.70" y1="455.40" x2="318.40" y2="455.40" stroke="#3e6e70" stroke-width="1.0"/>
<line x1="305.70" y1="458.10" x2="318.40" y2="458.10" stroke="#84cce0" stroke-width="1.5"/>
<polygon points="335.01,448.30 334.11,449.50 333.31,452.00 333.31,460.00 333.61,463.00 334.41,468.50 335.11,469.60 336.71,469.60 337.41,468.50 338.21,463.00 338.51,460.00 338.51,452.00 337.71,449.50 336.81,448.30" fill="#000" stroke="#000" stroke-width="0.3" stroke-linejoin="round"/>
<polygon points="328.10,453.50 344.30,453.50 344.30,455.40 343.80,456.40 344.30,457.40 344.30,459.30 328.10,459.30 328.10,457.40 328.60,456.40 328.10,455.40" fill="#060606" stroke="#000" stroke-width="1.5" stroke-linejoin="round"/>
<line x1="329.70" y1="455.20" x2="342.70" y2="455.20" stroke="#2c3434" stroke-width="1.0"/>
<line x1="329.70" y1="457.60" x2="342.70" y2="457.60" stroke="#2c3434" stroke-width="1.0"/>
<polygon points="359.37,443.00 357.97,444.50 355.77,447.80 357.97,457.00 358.47,460.00 358.87,476.50 359.47,478.30 360.47,478.30 361.07,476.50 361.47,460.00 361.97,457.00 364.17,447.80 361.97,444.50 360.57,443.00" fill="#000" stroke="#000" stroke-width="0.3" stroke-linejoin="round"/>
<polygon points="352.40,447.80 367.80,447.80 367.80,451.30 367.30,452.30 367.80,453.30 367.80,456.80 352.40,456.80 352.40,453.30 352.90,452.30 352.40,451.30" fill="#060606" stroke="#000" stroke-width="1.5" stroke-linejoin="round"/>
<line x1="354.00" y1="450.10" x2="366.20" y2="450.10" stroke="#bccbf0" stroke-width="1.8"/>
<line x1="354.00" y1="454.40" x2="366.20" y2="454.40" stroke="#a8bdec" stroke-width="1.8"/>
<polygon points="383.53,421.80 383.03,423.00 382.88,435.10 382.03,441.10 382.03,454.50 382.88,460.50 383.03,481.40 383.53,482.60 384.53,482.60 385.03,481.40 385.18,460.50 386.03,454.50 386.03,441.10 385.18,435.10 385.03,423.00 384.53,421.80" fill="#000" stroke="#000" stroke-width="0.3" stroke-linejoin="round"/>
<polygon points="376.60,441.10 392.00,441.10 392.00,445.80 389.60,448.40 392.00,451.00 392.00,454.50 376.60,454.50 376.60,451.00 379.00,448.40 376.60,445.80" fill="#b6a6dc" fill-opacity="0.85" stroke="#000" stroke-width="1.5" stroke-linejoin="round"/>
<line x1="379.00" y1="448.40" x2="389.60" y2="448.40" stroke="#000" stroke-width="1.9"/>
<polygon points="407.59,398.60 407.09,399.80 406.94,406.30 406.89,408.30 406.89,445.50 406.94,447.50 407.09,457.30 407.59,458.50 408.59,458.50 409.09,457.30 409.24,447.50 409.29,445.50 409.29,408.30 409.24,406.30 409.09,399.80 408.59,398.60" fill="#000" stroke="#000" stroke-width="0.3" stroke-linejoin="round"/>
<polygon points="400.80,408.30 415.90,408.30 415.90,429.70 413.05,434.00 415.90,438.30 415.90,445.50 400.80,445.50 400.80,438.30 403.65,434.00 400.80,429.70" fill="#c898d2" fill-opacity="0.88" stroke="#000" stroke-width="1.5" stroke-linejoin="round"/>
<line x1="403.65" y1="434.00" x2="413.05" y2="434.00" stroke="#000" stroke-width="1.9"/>
<polygon points="431.70,396.40 431.25,397.60 431.11,419.00 429.95,426.00 429.95,441.20 431.11,448.20 431.25,455.80 431.70,457.00 432.60,457.00 433.05,455.80 433.19,448.20 434.35,441.20 434.35,426.00 433.19,419.00 433.05,397.60 432.60,396.40" fill="#000" stroke="#000" stroke-width="0.3" stroke-linejoin="round"/>
<polygon points="424.60,426.00 439.80,426.00 439.80,429.70 437.30,433.30 439.80,436.90 439.80,441.20 424.60,441.20 424.60,436.90 427.10,433.30 424.60,429.70" fill="#e29ac8" fill-opacity="0.88" stroke="#000" stroke-width="1.5" stroke-linejoin="round"/>
<line x1="427.10" y1="433.30" x2="437.30" y2="433.30" stroke="#000" stroke-width="1.9"/>
<polygon points="455.71,386.40 455.21,387.60 455.06,399.20 454.91,402.20 454.91,445.50 455.06,448.50 455.21,459.30 455.71,460.50 456.71,460.50 457.21,459.30 457.36,448.50 457.51,445.50 457.51,402.20 457.36,399.20 457.21,387.60 456.71,386.40" fill="#000" stroke="#000" stroke-width="0.3" stroke-linejoin="round"/>
<polygon points="449.00,402.20 464.20,402.20 464.20,409.40 461.60,413.00 464.20,416.60 464.20,445.50 449.00,445.50 449.00,416.60 451.60,413.00 449.00,409.40" fill="#ea8fc3" fill-opacity="0.88" stroke="#000" stroke-width="1.5" stroke-linejoin="round"/>
<line x1="451.60" y1="413.00" x2="461.60" y2="413.00" stroke="#000" stroke-width="1.9"/>
<polygon points="479.82,367.90 479.37,369.10 479.23,376.20 478.97,381.20 478.97,403.40 479.23,408.40 479.37,421.50 479.82,422.70 480.72,422.70 481.17,421.50 481.31,408.40 481.57,403.40 481.57,381.20 481.31,376.20 481.17,369.10 480.72,367.90" fill="#000" stroke="#000" stroke-width="0.3" stroke-linejoin="round"/>
<polygon points="472.90,381.20 489.00,381.20 489.00,382.10 488.00,384.30 489.00,386.50 489.00,403.40 472.90,403.40 472.90,386.50 473.90,384.30 472.90,382.10" fill="#ea92bc" fill-opacity="0.88" stroke="#000" stroke-width="1.5" stroke-linejoin="round"/>
<line x1="473.90" y1="384.30" x2="488.00" y2="384.30" stroke="#000" stroke-width="1.9"/>
<text x="3.60" y="563.10" font-size="11.6" text-anchor="start" font-weight="bold" fill="#111" stroke="#111" stroke-width="0.18" xml:space="preserve">G</text>
<line x1="53.12" y1="565.20" x2="53.12" y2="679.50" stroke="#eeeeee" stroke-width="0.9"/>
<line x1="67.50" y1="565.20" x2="67.50" y2="679.50" stroke="#eeeeee" stroke-width="0.9"/>
<line x1="81.88" y1="565.20" x2="81.88" y2="679.50" stroke="#eeeeee" stroke-width="0.9"/>
<line x1="96.25" y1="565.20" x2="96.25" y2="679.50" stroke="#eeeeee" stroke-width="0.9"/>
<line x1="110.62" y1="565.20" x2="110.62" y2="679.50" stroke="#eeeeee" stroke-width="0.9"/>
<line x1="125.00" y1="565.20" x2="125.00" y2="679.50" stroke="#eeeeee" stroke-width="0.9"/>
<line x1="139.38" y1="565.20" x2="139.38" y2="679.50" stroke="#eeeeee" stroke-width="0.9"/>
<line x1="153.75" y1="565.20" x2="153.75" y2="679.50" stroke="#eeeeee" stroke-width="0.9"/>
<line x1="44.60" y1="671.97" x2="161.30" y2="671.97" stroke="#eeeeee" stroke-width="0.9"/>
<line x1="44.60" y1="657.80" x2="161.30" y2="657.80" stroke="#eeeeee" stroke-width="0.9"/>
<line x1="44.60" y1="643.63" x2="161.30" y2="643.63" stroke="#eeeeee" stroke-width="0.9"/>
<line x1="44.60" y1="629.30" x2="161.30" y2="629.30" stroke="#eeeeee" stroke-width="0.9"/>
<line x1="44.60" y1="615.13" x2="161.30" y2="615.13" stroke="#eeeeee" stroke-width="0.9"/>
<line x1="44.60" y1="601.20" x2="161.30" y2="601.20" stroke="#eeeeee" stroke-width="0.9"/>
<line x1="44.60" y1="587.03" x2="161.30" y2="587.03" stroke="#eeeeee" stroke-width="0.9"/>
<line x1="44.60" y1="572.80" x2="161.30" y2="572.80" stroke="#eeeeee" stroke-width="0.9"/>
<line x1="44.60" y1="679.50" x2="160.50" y2="566.20" stroke="#6f6050" stroke-width="1.3" stroke-dasharray="7 8" stroke-dashoffset="-1"/>
<circle cx="67.50" cy="652.20" r="1.85" fill="#3f876d"/>
<circle cx="78.90" cy="635.20" r="1.85" fill="#3f876d"/>
<circle cx="83.00" cy="643.30" r="1.85" fill="#3f876d"/>
<circle cx="84.40" cy="640.60" r="1.85" fill="#3f876d"/>
<circle cx="90.80" cy="636.00" r="1.85" fill="#3f876d"/>
<circle cx="92.50" cy="621.70" r="1.85" fill="#3f876d"/>
<circle cx="100.60" cy="608.30" r="1.85" fill="#3f876d"/>
<circle cx="107.20" cy="618.10" r="1.85" fill="#3f876d"/>
<circle cx="111.50" cy="603.70" r="1.85" fill="#3f876d"/>
<circle cx="113.60" cy="621.00" r="1.85" fill="#3f876d"/>
<circle cx="113.20" cy="597.20" r="1.85" fill="#3f876d"/>
<circle cx="115.50" cy="633.90" r="1.85" fill="#3f876d"/>
<circle cx="128.00" cy="632.20" r="1.85" fill="#3f876d"/>
<circle cx="120.30" cy="599.30" r="1.85" fill="#3f876d"/>
<circle cx="124.30" cy="594.60" r="1.85" fill="#3f876d"/>
<circle cx="125.30" cy="590.50" r="1.85" fill="#3f876d"/>
<circle cx="125.70" cy="585.50" r="1.85" fill="#3f876d"/>
<circle cx="113.20" cy="613.70" r="1.85" fill="#3f876d"/>
<circle cx="114.50" cy="615.10" r="1.85" fill="#3f876d"/>
<circle cx="115.90" cy="616.00" r="1.85" fill="#3f876d"/>
<circle cx="118.10" cy="614.40" r="1.85" fill="#3f876d"/>
<circle cx="117.20" cy="609.00" r="1.85" fill="#3f876d"/>
<circle cx="119.20" cy="608.40" r="1.85" fill="#3f876d"/>
<circle cx="121.20" cy="607.40" r="1.85" fill="#3f876d"/>
<circle cx="122.60" cy="605.30" r="1.85" fill="#3f876d"/>
<circle cx="123.90" cy="603.00" r="1.85" fill="#3f876d"/>
<circle cx="125.30" cy="600.70" r="1.85" fill="#3f876d"/>
<circle cx="127.30" cy="601.60" r="1.85" fill="#3f876d"/>
<circle cx="129.70" cy="598.90" r="1.85" fill="#3f876d"/>
<circle cx="131.30" cy="597.60" r="1.85" fill="#3f876d"/>
<circle cx="134.00" cy="596.60" r="1.85" fill="#3f876d"/>
<circle cx="136.70" cy="596.20" r="1.85" fill="#3f876d"/>
<circle cx="139.10" cy="597.30" r="1.85" fill="#3f876d"/>
<circle cx="129.70" cy="606.10" r="1.85" fill="#3f876d"/>
<circle cx="132.40" cy="609.70" r="1.85" fill="#3f876d"/>
<circle cx="142.80" cy="588.80" r="1.85" fill="#3f876d"/>
<circle cx="144.10" cy="585.10" r="1.85" fill="#3f876d"/>
<circle cx="146.10" cy="591.10" r="1.85" fill="#3f876d"/>
<circle cx="151.30" cy="575.70" r="1.85" fill="#3f876d"/>
<circle cx="152.60" cy="578.30" r="1.85" fill="#3f876d"/>
<circle cx="154.20" cy="586.40" r="1.85" fill="#3f876d"/>
<circle cx="121.20" cy="610.40" r="1.85" fill="#3f876d"/>
<circle cx="119.90" cy="609.70" r="1.85" fill="#3f876d"/>
<circle cx="128.60" cy="601.00" r="1.85" fill="#3f876d"/>
<circle cx="116.00" cy="611.00" r="1.85" fill="#3f876d"/>
<circle cx="126.00" cy="603.00" r="1.85" fill="#3f876d"/>
<line x1="44.60" y1="565.20" x2="44.60" y2="680.10" stroke="#2b2b2b" stroke-width="1.2"/>
<line x1="44.00" y1="679.50" x2="161.30" y2="679.50" stroke="#2b2b2b" stroke-width="1.2"/>
<text x="28.11" y="661.90" font-size="9.1" fill="#141414" stroke="#141414" stroke-width="0.08">10</text>
<text x="38.53" y="657.90" font-size="5.7" fill="#333">2</text>
<text x="28.11" y="633.40" font-size="9.1" fill="#141414" stroke="#141414" stroke-width="0.08">10</text>
<text x="38.53" y="629.40" font-size="5.7" fill="#333">3</text>
<text x="28.11" y="605.30" font-size="9.1" fill="#141414" stroke="#141414" stroke-width="0.08">10</text>
<text x="38.53" y="601.30" font-size="5.7" fill="#333">4</text>
<text x="28.11" y="576.90" font-size="9.1" fill="#141414" stroke="#141414" stroke-width="0.08">10</text>
<text x="38.53" y="572.90" font-size="5.7" fill="#333">5</text>
<text x="62.44" y="690.50" font-size="9.1" fill="#141414" stroke="#141414" stroke-width="0.08">10</text>
<text x="72.86" y="686.50" font-size="5.7" fill="#333">2</text>
<text x="91.19" y="690.50" font-size="9.1" fill="#141414" stroke="#141414" stroke-width="0.08">10</text>
<text x="101.61" y="686.50" font-size="5.7" fill="#333">3</text>
<text x="119.94" y="690.50" font-size="9.1" fill="#141414" stroke="#141414" stroke-width="0.08">10</text>
<text x="130.36" y="686.50" font-size="5.7" fill="#333">4</text>
<text x="148.69" y="690.50" font-size="9.1" fill="#141414" stroke="#141414" stroke-width="0.08">10</text>
<text x="159.11" y="686.50" font-size="5.7" fill="#333">5</text>
<text x="102.95" y="706.30" font-size="10.6" text-anchor="middle" font-weight="normal" fill="#141414" stroke="#141414" stroke-width="0.18" xml:space="preserve">Cytoplasm (Pa)</text>
<text x="16.80" y="614.40" font-size="10.6" text-anchor="middle" font-weight="normal" fill="#141414" stroke="#141414" stroke-width="0.18" xml:space="preserve" transform="rotate(-90 16.8 614.4)" dominant-baseline="central">Nucleus (Pa)</text>
<text x="180.60" y="562.60" font-size="11.6" text-anchor="start" font-weight="bold" fill="#111" stroke="#111" stroke-width="0.18" xml:space="preserve">H</text>
<line x1="233.37" y1="564.20" x2="233.37" y2="678.80" stroke="#eeeeee" stroke-width="0.9"/>
<line x1="247.60" y1="564.20" x2="247.60" y2="678.80" stroke="#eeeeee" stroke-width="0.9"/>
<line x1="261.83" y1="564.20" x2="261.83" y2="678.80" stroke="#eeeeee" stroke-width="0.9"/>
<line x1="276.50" y1="564.20" x2="276.50" y2="678.80" stroke="#eeeeee" stroke-width="0.9"/>
<line x1="290.73" y1="564.20" x2="290.73" y2="678.80" stroke="#eeeeee" stroke-width="0.9"/>
<line x1="304.60" y1="564.20" x2="304.60" y2="678.80" stroke="#eeeeee" stroke-width="0.9"/>
<line x1="318.83" y1="564.20" x2="318.83" y2="678.80" stroke="#eeeeee" stroke-width="0.9"/>
<line x1="333.00" y1="564.20" x2="333.00" y2="678.80" stroke="#eeeeee" stroke-width="0.9"/>
<line x1="225.20" y1="671.35" x2="341.40" y2="671.35" stroke="#eeeeee" stroke-width="0.9"/>
<line x1="225.20" y1="657.30" x2="341.40" y2="657.30" stroke="#eeeeee" stroke-width="0.9"/>
<line x1="225.20" y1="643.25" x2="341.40" y2="643.25" stroke="#eeeeee" stroke-width="0.9"/>
<line x1="225.20" y1="629.70" x2="341.40" y2="629.70" stroke="#eeeeee" stroke-width="0.9"/>
<line x1="225.20" y1="615.65" x2="341.40" y2="615.65" stroke="#eeeeee" stroke-width="0.9"/>
<line x1="225.20" y1="601.00" x2="341.40" y2="601.00" stroke="#eeeeee" stroke-width="0.9"/>
<line x1="225.20" y1="586.95" x2="341.40" y2="586.95" stroke="#eeeeee" stroke-width="0.9"/>
<line x1="225.20" y1="573.00" x2="341.40" y2="573.00" stroke="#eeeeee" stroke-width="0.9"/>
<line x1="225.20" y1="678.80" x2="340.60" y2="565.20" stroke="#6f6050" stroke-width="1.3" stroke-dasharray="7 8" stroke-dashoffset="-1"/>
<circle cx="254.20" cy="652.10" r="1.85" fill="#24408e"/>
<circle cx="254.00" cy="662.50" r="1.85" fill="#24408e"/>
<circle cx="256.50" cy="663.30" r="1.85" fill="#24408e"/>
<circle cx="264.00" cy="662.70" r="1.85" fill="#24408e"/>
<circle cx="264.80" cy="650.20" r="1.85" fill="#24408e"/>
<circle cx="265.20" cy="656.30" r="1.85" fill="#24408e"/>
<circle cx="266.70" cy="657.50" r="1.85" fill="#24408e"/>
<circle cx="271.50" cy="656.70" r="1.85" fill="#24408e"/>
<circle cx="261.20" cy="631.30" r="1.85" fill="#24408e"/>
<circle cx="263.20" cy="639.60" r="1.85" fill="#24408e"/>
<circle cx="261.20" cy="646.00" r="1.85" fill="#24408e"/>
<circle cx="262.50" cy="644.20" r="1.85" fill="#24408e"/>
<circle cx="271.30" cy="640.20" r="1.85" fill="#24408e"/>
<circle cx="273.30" cy="638.50" r="1.85" fill="#24408e"/>
<circle cx="275.20" cy="643.10" r="1.85" fill="#24408e"/>
<circle cx="274.40" cy="632.50" r="1.85" fill="#24408e"/>
<circle cx="277.90" cy="629.20" r="1.85" fill="#24408e"/>
<circle cx="278.50" cy="633.60" r="1.85" fill="#24408e"/>
<circle cx="279.30" cy="637.30" r="1.85" fill="#24408e"/>
<circle cx="279.40" cy="640.20" r="1.85" fill="#24408e"/>
<circle cx="279.40" cy="624.40" r="1.85" fill="#24408e"/>
<circle cx="284.80" cy="636.40" r="1.85" fill="#24408e"/>
<circle cx="286.00" cy="628.10" r="1.85" fill="#24408e"/>
<circle cx="286.50" cy="626.00" r="1.85" fill="#24408e"/>
<circle cx="287.90" cy="622.10" r="1.85" fill="#24408e"/>
<circle cx="288.80" cy="620.60" r="1.85" fill="#24408e"/>
<circle cx="288.30" cy="630.40" r="1.85" fill="#24408e"/>
<circle cx="287.70" cy="635.60" r="1.85" fill="#24408e"/>
<circle cx="287.90" cy="639.00" r="1.85" fill="#24408e"/>
<circle cx="288.60" cy="640.80" r="1.85" fill="#24408e"/>
<circle cx="290.60" cy="639.00" r="1.85" fill="#24408e"/>
<circle cx="287.50" cy="645.40" r="1.85" fill="#24408e"/>
<circle cx="291.70" cy="645.40" r="1.85" fill="#24408e"/>
<circle cx="290.90" cy="650.20" r="1.85" fill="#24408e"/>
<circle cx="292.30" cy="653.70" r="1.85" fill="#24408e"/>
<circle cx="291.20" cy="630.40" r="1.85" fill="#24408e"/>
<circle cx="292.30" cy="626.90" r="1.85" fill="#24408e"/>
<circle cx="290.60" cy="622.90" r="1.85" fill="#24408e"/>
<circle cx="292.30" cy="617.70" r="1.85" fill="#24408e"/>
<circle cx="293.50" cy="614.20" r="1.85" fill="#24408e"/>
<circle cx="295.80" cy="622.30" r="1.85" fill="#24408e"/>
<circle cx="295.80" cy="632.10" r="1.85" fill="#24408e"/>
<circle cx="296.30" cy="637.30" r="1.85" fill="#24408e"/>
<circle cx="301.50" cy="634.40" r="1.85" fill="#24408e"/>
<circle cx="296.30" cy="613.70" r="1.85" fill="#24408e"/>
<circle cx="298.10" cy="611.90" r="1.85" fill="#24408e"/>
<circle cx="299.80" cy="610.20" r="1.85" fill="#24408e"/>
<circle cx="301.00" cy="606.20" r="1.85" fill="#24408e"/>
<circle cx="302.70" cy="603.60" r="1.85" fill="#24408e"/>
<circle cx="303.80" cy="601.30" r="1.85" fill="#24408e"/>
<circle cx="304.10" cy="617.50" r="1.85" fill="#24408e"/>
<circle cx="285.40" cy="625.80" r="1.85" fill="#24408e"/>
<circle cx="286.50" cy="629.80" r="1.85" fill="#24408e"/>
<circle cx="288.80" cy="624.60" r="1.85" fill="#24408e"/>
<circle cx="324.20" cy="583.50" r="1.85" fill="#24408e"/>
<circle cx="324.80" cy="586.30" r="1.85" fill="#24408e"/>
<circle cx="324.80" cy="589.20" r="1.85" fill="#24408e"/>
<circle cx="324.20" cy="592.10" r="1.85" fill="#24408e"/>
<circle cx="321.30" cy="591.80" r="1.85" fill="#24408e"/>
<circle cx="319.60" cy="593.80" r="1.85" fill="#24408e"/>
<circle cx="321.90" cy="594.40" r="1.85" fill="#24408e"/>
<circle cx="324.50" cy="595.60" r="1.85" fill="#24408e"/>
<circle cx="311.80" cy="596.40" r="1.85" fill="#24408e"/>
<circle cx="311.50" cy="599.00" r="1.85" fill="#24408e"/>
<circle cx="308.70" cy="601.90" r="1.85" fill="#24408e"/>
<circle cx="306.30" cy="603.70" r="1.85" fill="#24408e"/>
<circle cx="304.00" cy="601.30" r="1.85" fill="#24408e"/>
<circle cx="305.20" cy="604.80" r="1.85" fill="#24408e"/>
<circle cx="301.20" cy="606.00" r="1.85" fill="#24408e"/>
<circle cx="300.00" cy="608.80" r="1.85" fill="#24408e"/>
<circle cx="298.30" cy="611.70" r="1.85" fill="#24408e"/>
<circle cx="296.50" cy="613.50" r="1.85" fill="#24408e"/>
<circle cx="294.80" cy="614.60" r="1.85" fill="#24408e"/>
<circle cx="293.10" cy="614.40" r="1.85" fill="#24408e"/>
<circle cx="291.90" cy="616.30" r="1.85" fill="#24408e"/>
<circle cx="306.10" cy="611.40" r="1.85" fill="#24408e"/>
<circle cx="306.30" cy="615.20" r="1.85" fill="#24408e"/>
<circle cx="303.80" cy="617.50" r="1.85" fill="#24408e"/>
<circle cx="317.50" cy="617.80" r="1.85" fill="#24408e"/>
<circle cx="296.30" cy="621.80" r="1.85" fill="#24408e"/>
<circle cx="290.80" cy="619.20" r="1.85" fill="#24408e"/>
<circle cx="288.50" cy="621.50" r="1.85" fill="#24408e"/>
<circle cx="286.70" cy="623.80" r="1.85" fill="#24408e"/>
<line x1="225.20" y1="564.20" x2="225.20" y2="679.40" stroke="#2b2b2b" stroke-width="1.2"/>
<line x1="224.60" y1="678.80" x2="341.40" y2="678.80" stroke="#2b2b2b" stroke-width="1.2"/>
<text x="208.71" y="661.40" font-size="9.1" fill="#141414" stroke="#141414" stroke-width="0.08">10</text>
<text x="219.13" y="657.40" font-size="5.7" fill="#333">2</text>
<text x="208.71" y="633.80" font-size="9.1" fill="#141414" stroke="#141414" stroke-width="0.08">10</text>
<text x="219.13" y="629.80" font-size="5.7" fill="#333">3</text>
<text x="208.71" y="605.10" font-size="9.1" fill="#141414" stroke="#141414" stroke-width="0.08">10</text>
<text x="219.13" y="601.10" font-size="5.7" fill="#333">4</text>
<text x="208.71" y="577.10" font-size="9.1" fill="#141414" stroke="#141414" stroke-width="0.08">10</text>
<text x="219.13" y="573.10" font-size="5.7" fill="#333">5</text>
<text x="242.54" y="689.80" font-size="9.1" fill="#141414" stroke="#141414" stroke-width="0.08">10</text>
<text x="252.96" y="685.80" font-size="5.7" fill="#333">2</text>
<text x="271.44" y="689.80" font-size="9.1" fill="#141414" stroke="#141414" stroke-width="0.08">10</text>
<text x="281.86" y="685.80" font-size="5.7" fill="#333">3</text>
<text x="299.54" y="689.80" font-size="9.1" fill="#141414" stroke="#141414" stroke-width="0.08">10</text>
<text x="309.96" y="685.80" font-size="5.7" fill="#333">4</text>
<text x="327.94" y="689.80" font-size="9.1" fill="#141414" stroke="#141414" stroke-width="0.08">10</text>
<text x="338.36" y="685.80" font-size="5.7" fill="#333">5</text>
<text x="283.30" y="705.60" font-size="10.6" text-anchor="middle" font-weight="normal" fill="#141414" stroke="#141414" stroke-width="0.18" xml:space="preserve">Normal cells (Pa)</text>
<text x="195.80" y="623.00" font-size="10.6" text-anchor="middle" font-weight="normal" fill="#141414" stroke="#141414" stroke-width="0.18" xml:space="preserve" transform="rotate(-90 195.8 623.0)" dominant-baseline="central">Cancer cells (Pa)</text>
</svg></body></html>
